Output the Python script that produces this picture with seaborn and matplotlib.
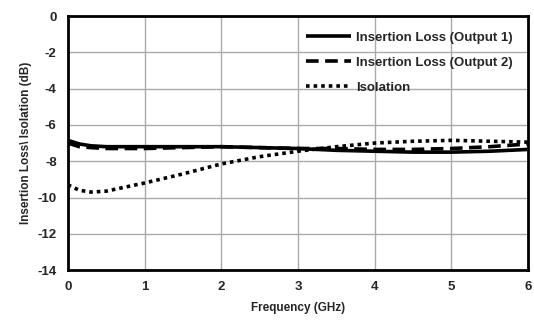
import numpy as np
import pandas as pd
import matplotlib
matplotlib.use("Agg")
import matplotlib.pyplot as plt
import seaborn as sns

freq = [0.0, 0.15, 0.3, 0.5, 1.0, 1.5, 2.0, 2.5, 3.0, 3.5, 4.0, 4.5, 5.0, 5.5, 6.0]
il_out1 = [-6.85, -7.05, -7.15, -7.2, -7.2, -7.2, -7.2, -7.25, -7.3, -7.4, -7.45, -7.5, -7.5, -7.45, -7.35]
il_out2 = [-7.0, -7.2, -7.25, -7.3, -7.3, -7.25, -7.2, -7.25, -7.3, -7.3, -7.35, -7.35, -7.3, -7.2, -7.05]
isolation = [-9.3, -9.6, -9.7, -9.65, -9.2, -8.7, -8.15, -7.75, -7.45, -7.2, -7.0, -6.9, -6.85, -6.9, -6.95]
labels = ["Insertion Loss (Output 1)", "Insertion Loss (Output 2)", "Isolation"]

rows = []
for lab, vals in zip(labels, [il_out1, il_out2, isolation]):
    for f, v in zip(freq, vals):
        rows.append({"Frequency": f, "Value": v, "Series": lab})
df = pd.DataFrame(rows)

sns.set_style("white")
plt.rcParams['font.family'] = ['Liberation Sans', 'DejaVu Sans']
plt.rcParams['axes.unicode_minus'] = False

fig = plt.figure(figsize=(5.34, 3.27), dpi=100)
ax = fig.add_axes([0.127, 0.174, 0.862, 0.777])

dashes = {labels[0]: (1, 0), labels[1]: (3.5, 1.8), labels[2]: (1, 1.1)}
sns.lineplot(data=df, x="Frequency", y="Value", style="Series", dashes=dashes,
             color="black", linewidth=2.6, ax=ax, legend=True)

ax.set_xlim(0, 6)
ax.set_ylim(-14, 0)
ax.set_xticks(range(0, 7))
ax.set_yticks(range(-14, 1, 2))
ax.grid(True, color="#aaaaaa", linewidth=1)
for s in ax.spines.values():
    s.set_color("black")
    s.set_linewidth(2)
ax.tick_params(axis='both', length=0, labelsize=9.5, pad=8)
for t in ax.get_xticklabels() + ax.get_yticklabels():
    t.set_fontweight("bold")
ax.set_xlabel("Frequency (GHz)", fontsize=8.5, fontweight="bold", labelpad=6)
ax.set_ylabel("Insertion Loss\\ Isolation (dB)", fontsize=8.5, fontweight="bold", labelpad=4)

leg = ax.legend(loc="upper right", frameon=False, prop={"weight": "bold", "size": 9.5},
                handlelength=3.4, handletextpad=0.35, labelspacing=0.95, borderaxespad=0.8)

fig.savefig("out.png", dpi=100)
